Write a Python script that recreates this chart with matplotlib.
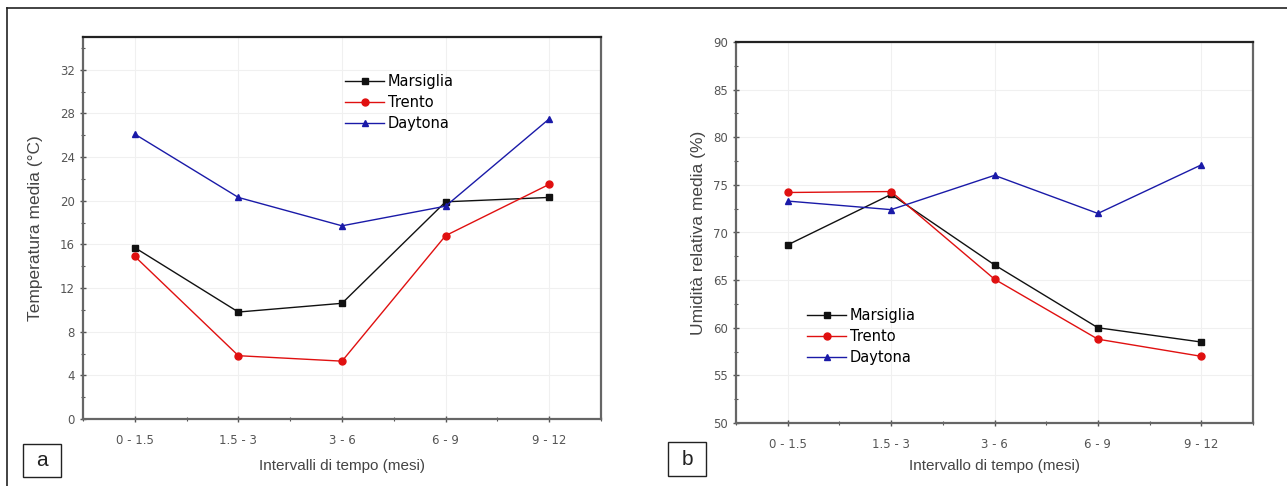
import matplotlib
matplotlib.use("Agg")
import matplotlib.pyplot as plt
from matplotlib.lines import Line2D
from matplotlib.patches import Rectangle
from matplotlib.ticker import MultipleLocator

plt.rcParams['font.family'] = ['Liberation Sans', 'DejaVu Sans']

# Time intervals (months)
intervals = ["0 - 1.5", "1.5 - 3", "3 - 6", "6 - 9", "9 - 12"]

# Mean temperature (°C)
temp_marsiglia = [15.7, 9.8, 10.6, 19.9, 20.3]
temp_trento = [14.9, 5.8, 5.3, 16.8, 21.5]
temp_daytona = [26.1, 20.3, 17.7, 19.5, 27.5]

# Mean relative humidity (%)
hum_marsiglia = [68.7, 74.0, 66.6, 60.0, 58.5]
hum_trento = [74.2, 74.3, 65.1, 58.8, 57.0]
hum_daytona = [73.3, 72.4, 76.0, 72.0, 77.1]

cities = ["Marsiglia", "Trento", "Daytona"]
colors = ["#111111", "#e01010", "#1a1aa8"]
markers = ["s", "o", "^"]

W, H = 1287, 486
fig = plt.figure(figsize=(W / 100, H / 100), dpi=100)
fig.patch.set_facecolor("white")

TICK_FONT = {"family": "DejaVu Sans", "size": 8.5}


def frac_box(x0, y0, x1, y1):
    return [x0 / W, 1 - y1 / H, (x1 - x0) / W, (y1 - y0) / H]


def style_axes(ax):
    for side in ("left", "bottom", "right"):
        ax.spines[side].set_color("#666666")
        ax.spines[side].set_linewidth(1.6)
    ax.spines["top"].set_color("#222222")
    ax.spines["top"].set_linewidth(1.6)
    ax.tick_params(axis="both", which="major", direction="inout", length=5,
                   width=1.0, color="#555555", labelcolor="#555555",
                   top=False, right=False)
    ax.tick_params(axis="x", which="major", pad=8)
    ax.tick_params(axis="both", which="minor", direction="inout", length=3,
                   width=0.8, color="#555555", top=False, right=False)
    ax.set_xticks(range(len(intervals)))
    ax.set_xticklabels(intervals, fontdict=TICK_FONT)
    ax.xaxis.set_minor_locator(MultipleLocator(0.5))
    ax.set_xlim(-0.5, 4.5)
    ax.grid(True, which="major", color="#f0f0f0", linewidth=0.8)
    ax.set_axisbelow(True)


def finish_yticks(ax):
    for lab in ax.get_yticklabels():
        lab.set_fontfamily("DejaVu Sans")
        lab.set_fontsize(8.5)


def plot_series(ax, series):
    for vals, name, c, m in zip(series, cities, colors, markers):
        ax.plot(range(len(intervals)), vals, color=c, lw=1.0,
                marker=m, markersize=5, markerfacecolor=c,
                markeredgecolor=c, label=name)


LEGEND_KW = dict(frameon=False, prop={"family": "DejaVu Sans", "size": 10.5},
                 handlelength=2.7, handletextpad=0.25, labelspacing=0.42,
                 borderpad=0.0, borderaxespad=0.0, loc="upper left")

# Panel a: temperature
ax1 = fig.add_axes(frac_box(83, 37, 601, 419))
style_axes(ax1)
plot_series(ax1, [temp_marsiglia, temp_trento, temp_daytona])
ax1.set_ylim(0, 35)
ax1.yaxis.set_major_locator(MultipleLocator(4))
ax1.yaxis.set_minor_locator(MultipleLocator(2))
ax1.set_yticks(range(0, 33, 4))
finish_yticks(ax1)
ax1.set_ylabel("Temperatura media (°C)", fontsize=12.5, color="#444444")
ax1.yaxis.set_label_coords(-0.077, 0.5)
ax1.set_xlabel("Intervalli di tempo (mesi)", fontsize=11, color="#444444")
ax1.xaxis.set_label_coords(0.5, -0.105)
ax1.legend(bbox_to_anchor=((345 - 83) / 518, (419 - 74) / 382), **LEGEND_KW)

# Panel b: relative humidity
ax2 = fig.add_axes(frac_box(736, 42, 1253, 423))
style_axes(ax2)
plot_series(ax2, [hum_marsiglia, hum_trento, hum_daytona])
ax2.set_ylim(50, 90)
ax2.yaxis.set_major_locator(MultipleLocator(5))
ax2.yaxis.set_minor_locator(MultipleLocator(2.5))
ax2.set_yticks(range(50, 91, 5))
finish_yticks(ax2)
ax2.set_ylabel("Umidità relativa media (%)", fontsize=12.5, color="#444444")
ax2.yaxis.set_label_coords(-0.058, 0.5)
ax2.set_xlabel("Intervallo di tempo (mesi)", fontsize=11, color="#444444")
ax2.xaxis.set_label_coords(0.5, -0.094)
ax2.legend(bbox_to_anchor=((807 - 736) / 517, (423 - 308) / 381), **LEGEND_KW)

# Outer frame lines (top and left)
fig.add_artist(Line2D([7 / W, 1.0], [1 - 8 / H, 1 - 8 / H], color="#222222", lw=1.2))
fig.add_artist(Line2D([7 / W, 7 / W], [0.0, 1 - 8 / H], color="#222222", lw=1.2))

# Panel letter boxes
for (x0, y0, x1, y1), letter in [((23, 444, 61, 477), "a"), ((668, 442, 706, 476), "b")]:
    fig.add_artist(Rectangle((x0 / W, 1 - y1 / H), (x1 - x0) / W, (y1 - y0) / H,
                             transform=fig.transFigure, fill=False,
                             edgecolor="#222222", lw=1.0))
    fig.text((x0 + x1) / 2 / W, 1 - (y0 + y1) / 2 / H, letter,
             ha="center", va="center", fontsize=15, color="#222222")

fig.savefig("out.png", dpi=100)
